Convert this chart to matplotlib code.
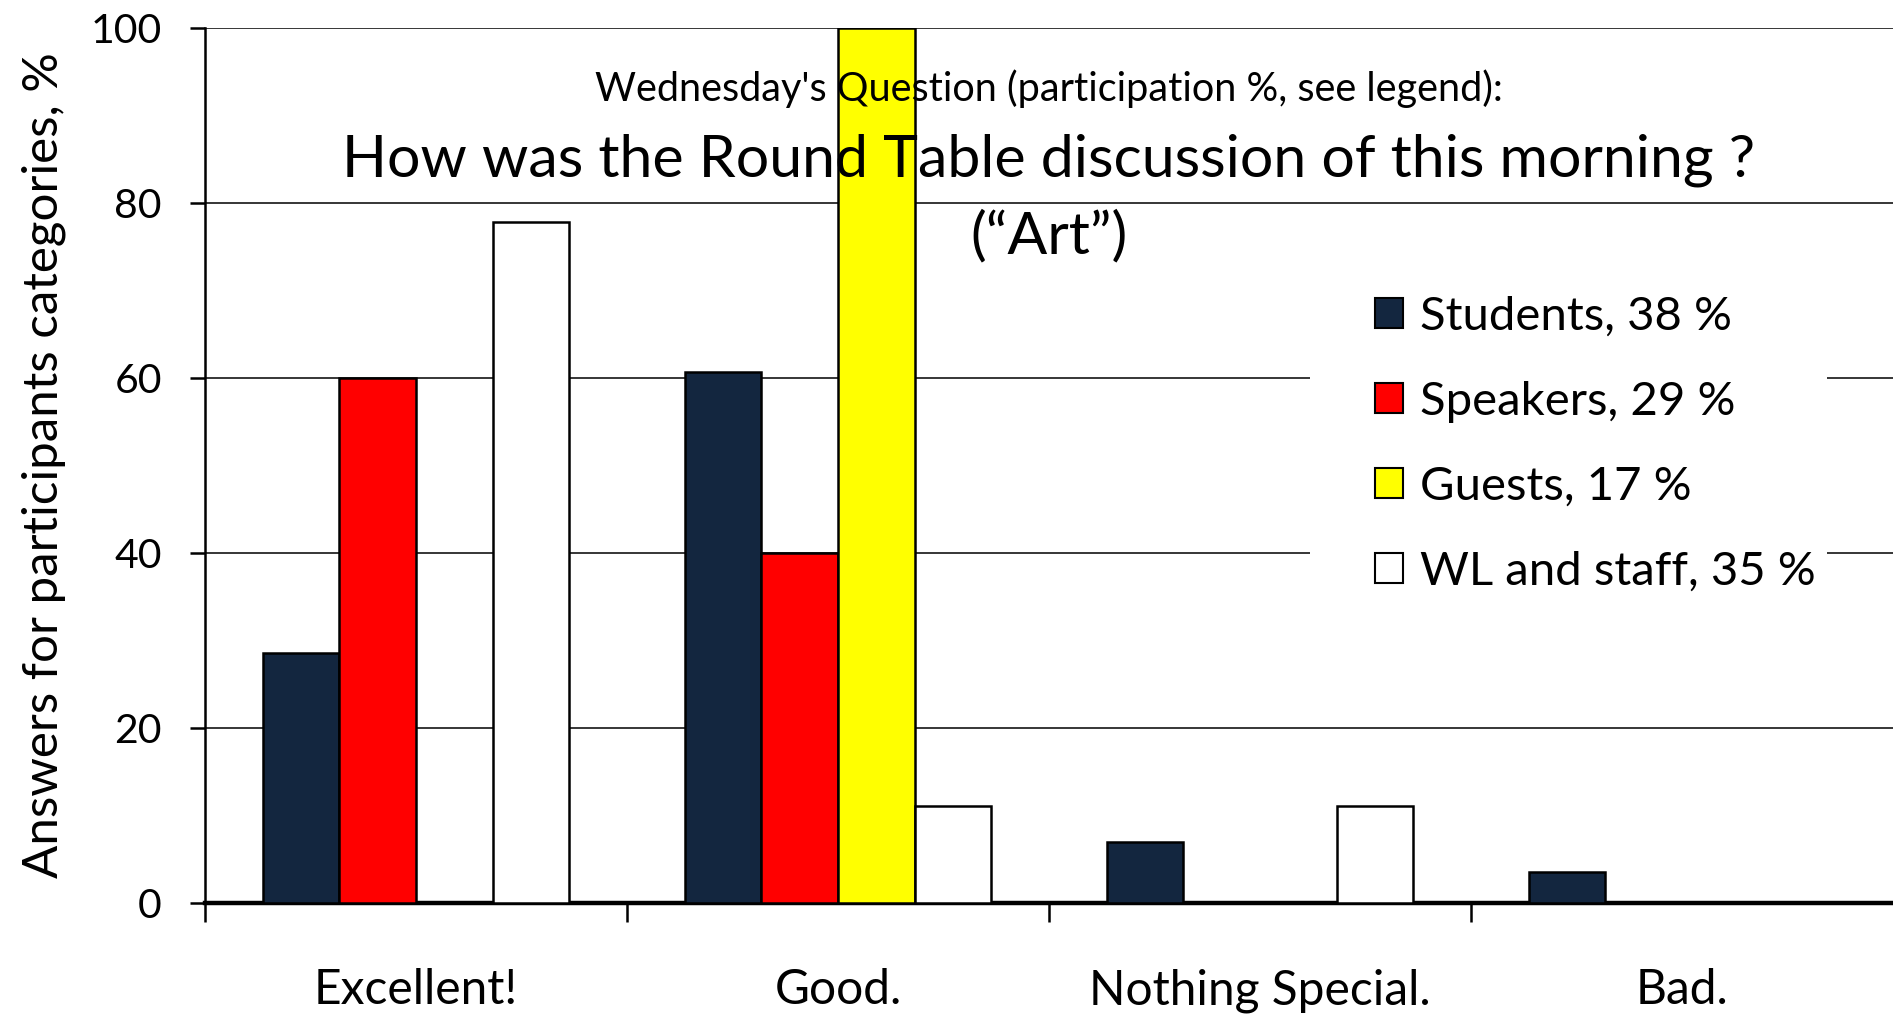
import matplotlib
matplotlib.use("Agg")
import matplotlib.pyplot as plt
from matplotlib.patches import Patch, Rectangle
import numpy as np

plt.rcParams['font.family'] = ['Lato', 'DejaVu Sans']

categories = ["Excellent!", "Good.", "Nothing Special.", "Bad."]
series_names = ["Students, 38 %", "Speakers, 29 %", "Guests, 17 %", "WL and staff, 35 %"]
students = [28.6, 60.7, 7.0, 3.6]
speakers = [60.0, 40.0, 0.0, 0.0]
guests = [0.0, 100.0, 0.0, 0.0]
wl_staff = [77.8, 11.1, 11.1, 0.0]
colors = ["#13263F", "#FF0000", "#FFFF00", "#FFFFFF"]
yticks = [0, 20, 40, 60, 80, 100]
ylabel = "Answers for participants categories, %"
subtitle = "Wednesday's Question (participation %, see legend):"
title_line1 = "How was the Round Table discussion of this morning ?"
title_line2 = "(\u201cArt\u201d)"

W, H = 1893, 1015
fig = plt.figure(figsize=(W / 100, H / 100), dpi=100)
left, right, top, bottom = 205, 1893, 28, 903
ax = fig.add_axes([left / W, (H - bottom) / H, (right - left) / W, (bottom - top) / H])

data = [students, speakers, guests, wl_staff]
n = len(categories)
w = 1 / 5.5
centers = np.arange(n) + 0.5
for j, (vals, c) in enumerate(zip(data, colors)):
    ax.bar(centers + (j - 1.5) * w, vals, width=w, color=c, edgecolor="black",
           linewidth=1.8, zorder=3)

ax.set_xlim(0, n)
ax.set_ylim(0, 100)
ax.set_yticks(yticks)
ax.yaxis.grid(True, color="black", linewidth=1.1, zorder=0)
ax.set_axisbelow(True)

ax.set_xticks(np.arange(n))
ax.set_xticklabels([])
ax.set_xticks(centers, minor=True)
ax.set_xticklabels(categories, minor=True, fontsize=34.5)
ax.tick_params(axis="x", which="major", direction="out", length=14, width=1.8)
ax.tick_params(axis="x", which="minor", length=0, pad=47)
ax.tick_params(axis="y", direction="out", length=11, width=1.8, labelsize=29.5, pad=20)

for s in ["top", "right"]:
    ax.spines[s].set_visible(False)
ax.spines["left"].set_linewidth(1.8)
ax.spines["bottom"].set_linewidth(3.2)

ax.set_ylabel(ylabel, fontsize=35.5, labelpad=18)

ax.text(0.5, 0.931, subtitle, transform=ax.transAxes, ha="center", va="center",
        fontsize=28.5, zorder=5)
ax.text(0.5, 0.849, title_line1, transform=ax.transAxes, ha="center", va="center",
        fontsize=42.5, zorder=5)
ax.text(0.5, 0.762, title_line2, transform=ax.transAxes, ha="center", va="center",
        fontsize=42.5, zorder=5)

# white background of the legend area (covers the gridlines)
ax.add_patch(Rectangle((1310 / W, 1 - 640 / H), (1827 - 1310) / W, (640 - 225) / H,
                       transform=fig.transFigure, facecolor="white", edgecolor="none",
                       zorder=2))

handles = [Patch(facecolor=c, edgecolor="black", linewidth=1.5) for c in colors]
leg = ax.legend(handles, series_names, loc="upper left",
                bbox_to_anchor=(1290 / W, 1 - 211 / H), bbox_transform=fig.transFigure,
                fontsize=34, frameon=False, handlelength=0.6, handleheight=0.6,
                handletextpad=0.35, labelspacing=0.91, borderpad=1.3)
leg.set_zorder(6)

fig.savefig("out.png", dpi=100)
